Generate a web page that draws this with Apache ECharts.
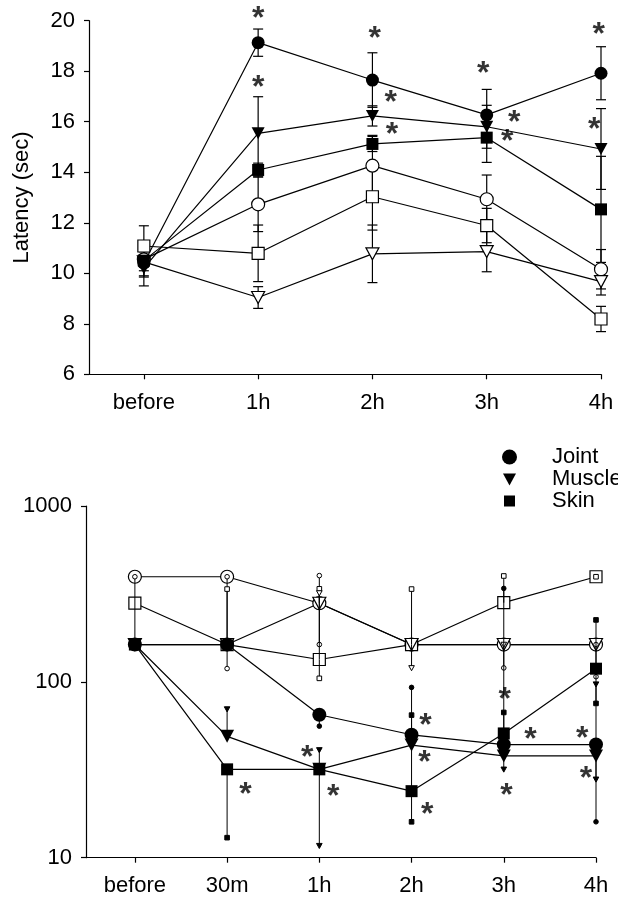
<!DOCTYPE html>
<html><head><meta charset="utf-8">
<script src="https://cdn.jsdelivr.net/npm/echarts@6/dist/echarts.min.js"></script>
<style>html,body{margin:0;padding:0;background:#fff}#c{width:618px;height:900px}</style>
</head><body><div id="c"></div>
<script>
// ---------- Top panel: latency (sec) ----------
const topCats = ['before', '1h', '2h', '3h', '4h'];
const topJoint = [10.4, 19.13, 17.65, 16.27, 17.92];
const topJointSE = [0.5, 0.54, 1.08, 1.01, 1.05];
const topMuscle = [10.2, 15.54, 16.23, 15.8, 14.92];
const topMuscleSE = [0.7, 1.45, 0.4, 0.85, 1.6];
const topSkin = [10.5, 14.09, 15.12, 15.37, 12.53];
const topSkinSE = [0.4, 0.27, 0.3, 0.98, 2.1];
const topJointOpen = [10.55, 12.73, 14.26, 12.93, 10.16];
const topJointOpenSE = [0.3, 1.08, 1.2, 0.96, 0.78];
const topSkinOpen = [11.08, 10.79, 13.03, 11.89, 8.19];
const topSkinOpenSE = [0.8, 1.12, 1.32, 0.68, 0.5];
const topMuscleOpen = [10.45, 9.04, 10.77, 10.86, 9.67];
const topMuscleOpenSE = [0.6, 0.43, 1.14, 0.8, 0.53];
const topYTicks = [6, 8, 10, 12, 14, 16, 18, 20];
const topStarX = [1, 1, 2.02, 2.16, 2.17, 2.97, 3.24, 3.18, 3.98, 3.94];
const topStarY = [20.3, 17.55, 19.5, 16.97, 15.7, 18.14, 16.18, 15.41, 19.66, 15.91];

// ---------- Bottom panel: log scale ----------
const botCats = ['before', '30m', '1h', '2h', '3h', '4h'];
const botJoint = [163, 163, 65, 50, 44, 44];
const botJointLo = [null, null, 56, null, null, 16];
const botJointHi = [null, null, null, 93, 340, null];
const botMuscle = [163, 49, 31.8, 43.7, 37.9, 37.9];
const botMuscleLo = [null, null, 11.7, null, 31.8, 27.9];
const botMuscleHi = [null, 70, 41, null, null, 97];
const botSkin = [163, 31.8, 31.8, 23.9, 50.9, 118.8];
const botSkinLo = [null, 13, null, 16, null, 75.4];
const botSkinHi = [null, null, null, 64.7, 67, 225];
const botJointOpen = [396, 396, 280, 163, 163, 163];
const botJointOpenLo = [163, 119, 163, null, 120, 107];
const botJointOpenHi = [396, 396, 402, null, null, 163];
const botSkinOpen = [280, 163, 134, 163, 282, 396];
const botSkinOpenLo = [null, null, 104.7, null, null, null];
const botSkinOpenHi = [null, 337, 338, 337, 400, 396];
const botMuscleOpen = [163, 163, 280, 163, 163, 163];
const botMuscleOpenLo = [null, null, null, 120, null, null];
const botMuscleOpenHi = [null, null, 320, null, 163, null];
const botStarX = [1.2, 1.87, 2.15, 3.15, 3.14, 3.17, 4.01, 4.29, 4.03, 4.85, 4.89];
const botStarY = [24.5, 39.6, 24.0, 60.2, 37.5, 18.8, 84.9, 50.3, 24.3, 51.4, 30.2];

const legendNames = ['Joint', 'Muscle', 'Skin'];

// ---------- build ----------
const FONT = "'Liberation Sans', Arial, sans-serif";
const pts = arr => arr.map((v, i) => [i, v]);

function seErr(vals, se) { return vals.map((v, i) => [i, v - se[i], v + se[i]]); }
function capBars(params, api) {
  const x = api.value(0), lo = api.value(1), hi = api.value(2);
  const p1 = api.coord([x, lo]), p2 = api.coord([x, hi]);
  const w = 5, st = { stroke: '#000', lineWidth: 1.2 };
  return { type: 'group', children: [
    { type: 'line', shape: { x1: p1[0], y1: p1[1], x2: p2[0], y2: p2[1] }, style: st },
    { type: 'line', shape: { x1: p1[0] - w, y1: p1[1], x2: p1[0] + w, y2: p1[1] }, style: st },
    { type: 'line', shape: { x1: p2[0] - w, y1: p2[1], x2: p2[0] + w, y2: p2[1] }, style: st }
  ]};
}
function whiskers(vals, lo, hi, shape, filled) {
  const out = [];
  vals.forEach((v, i) => {
    if (lo[i] != null) out.push([i, v, lo[i], shape, filled]);
    if (hi[i] != null) out.push([i, v, hi[i], shape, filled]);
  });
  return out;
}
function whiskerItem(params, api) {
  const x = api.value(0), v = api.value(1), e = api.value(2), sh = api.value(3), f = api.value(4);
  const a = api.coord([x, v]), b = api.coord([x, e]);
  const st = { stroke: '#000', lineWidth: 1, fill: f ? '#000' : '#fff' };
  const ch = [{ type: 'line', shape: { x1: a[0], y1: a[1], x2: b[0], y2: b[1] }, style: { stroke: '#000', lineWidth: 1 } }];
  const r = 2.3;
  if (sh === 0) ch.push({ type: 'circle', shape: { cx: b[0], cy: b[1], r: r }, style: st });
  else if (sh === 2) ch.push({ type: 'rect', shape: { x: b[0] - r, y: b[1] - r, width: 2 * r, height: 2 * r }, style: st });
  else ch.push({ type: 'polygon', shape: { points: [[b[0] - r - 0.5, b[1] - r], [b[0] + r + 0.5, b[1] - r], [b[0], b[1] + r + 0.5]] }, style: st });
  return { type: 'group', children: ch };
}

function lineSeries(name, data, grid, symbol, size, filled, rotate, z) {
  return {
    type: 'line', name: name, xAxisIndex: grid, yAxisIndex: grid, data: pts(data),
    symbol: symbol, symbolSize: size, symbolRotate: rotate || 0, showSymbol: true, clip: false,
    lineStyle: { color: '#000', width: 1.2 },
    itemStyle: { color: filled ? '#000' : '#fff', borderColor: '#000', borderWidth: filled ? 0 : 1.2, opacity: 1 },
    emphasis: { disabled: true }, animation: false, z: z || 3
  };
}
function starSeries(xs, ys, grid) {
  return {
    type: 'scatter', xAxisIndex: grid, yAxisIndex: grid, data: xs.map((x, i) => [x, ys[i]]),
    symbol: 'circle', symbolSize: 1, itemStyle: { color: 'rgba(0,0,0,0)' }, clip: false,
    label: { show: true, position: 'inside', formatter: '*', fontSize: 32, fontWeight: 'bold', fontFamily: FONT, color: '#000', offset: [0, 6] },
    emphasis: { disabled: true }, animation: false, z: 5
  };
}

function axisCommon() {
  return {
    axisLine: { show: true, onZero: false, lineStyle: { color: '#000', width: 1.2 } },
    axisTick: { show: true, length: 5, lineStyle: { color: '#000', width: 1.2 } },
    splitLine: { show: false }
  };
}

const option = {
  backgroundColor: '#fff',
  animation: false,
  textStyle: { fontFamily: FONT },
  grid: [
    { left: 89, top: 20.7, width: 512, height: 353.6, containLabel: false, outerBoundsMode: 'none' },
    { left: 86, top: 506, width: 510, height: 351.7, containLabel: false, outerBoundsMode: 'none' }
  ],
  xAxis: [
    Object.assign(axisCommon(), { type: 'value', gridIndex: 0, min: -0.48, max: 4,
      axisTick: { show: true, length: 5, customValues: [0, 1, 2, 3, 4], lineStyle: { color: '#000', width: 1.2 } },
      axisLabel: { customValues: [0, 1, 2, 3, 4], formatter: v => topCats[Math.round(v)], fontSize: 22, color: '#000', margin: 18 } }),
    Object.assign(axisCommon(), { type: 'value', gridIndex: 1, min: -0.53, max: 5,
      axisTick: { show: true, length: 5, customValues: [0, 1, 2, 3, 4, 5], lineStyle: { color: '#000', width: 1.2 } },
      axisLabel: { customValues: [0, 1, 2, 3, 4, 5], formatter: v => botCats[Math.round(v)], fontSize: 22, color: '#000', margin: 17 } })
  ],
  yAxis: [
    Object.assign(axisCommon(), { type: 'value', gridIndex: 0, min: topYTicks[0], max: topYTicks[topYTicks.length - 1], interval: 2,
      name: 'Latency (sec)', nameLocation: 'middle', nameGap: 56,
      nameTextStyle: { fontSize: 22, color: '#000', fontFamily: FONT },
      axisLabel: { fontSize: 22, color: '#000', margin: 14 } }),
    Object.assign(axisCommon(), { type: 'log', logBase: 10, gridIndex: 1, min: 10, max: 1000,
      axisLabel: { fontSize: 22, color: '#000', margin: 14, formatter: v => String(Math.round(v)) } })
  ],
  legend: {
    orient: 'vertical', left: 497, top: 441, itemWidth: 15, itemHeight: 15, itemGap: 0,
    selectedMode: false, inactiveColor: '#000',
    textStyle: { fontSize: 22, color: '#000', lineHeight: 22, padding: [0, 0, 0, 30], fontFamily: FONT },
    data: [
      { name: 'Joint', icon: 'circle', itemStyle: { color: '#000' } },
      { name: 'Muscle', icon: 'path://M0,0M15,15M1,2L14,2L7.5,14Z', itemStyle: { color: '#000' } },
      { name: 'Skin', icon: 'path://M0,0M15,15M2,2L13,2L13,13L2,13Z', itemStyle: { color: '#000' } }
    ]
  },
  series: [
    // top error bars
    { type: 'custom', xAxisIndex: 0, yAxisIndex: 0, renderItem: capBars, z: 1, silent: true, clip: false,
      encode: { x: 0, y: [1, 2] },
      data: [].concat(seErr(topJoint, topJointSE), seErr(topMuscle, topMuscleSE), seErr(topSkin, topSkinSE),
        seErr(topJointOpen, topJointOpenSE), seErr(topSkinOpen, topSkinOpenSE), seErr(topMuscleOpen, topMuscleOpenSE)) },
    lineSeries('Joint ctrl', topJointOpen, 0, 'circle', 13, false),
    lineSeries('Skin ctrl', topSkinOpen, 0, 'rect', 12, false),
    lineSeries('Muscle ctrl', topMuscleOpen, 0, 'triangle', [13, 12], false, 180),
    lineSeries('Skin', topSkin, 0, 'rect', 12, true),
    lineSeries('Muscle', topMuscle, 0, 'triangle', [13, 12], true, 180),
    lineSeries('Joint', topJoint, 0, 'circle', 13, true),
    starSeries(topStarX, topStarY, 0),
    // bottom whiskers (above open symbols, below filled ones)
    { type: 'custom', xAxisIndex: 1, yAxisIndex: 1, renderItem: whiskerItem, z: 2.5, silent: true, clip: false,
      encode: { x: 0, y: [1, 2] },
      data: [].concat(
        whiskers(botJointOpen, botJointOpenLo, botJointOpenHi, 0, 0),
        whiskers(botSkinOpen, botSkinOpenLo, botSkinOpenHi, 2, 0),
        whiskers(botMuscleOpen, botMuscleOpenLo, botMuscleOpenHi, 1, 0),
        whiskers(botJoint, botJointLo, botJointHi, 0, 1),
        whiskers(botMuscle, botMuscleLo, botMuscleHi, 1, 1),
        whiskers(botSkin, botSkinLo, botSkinHi, 2, 1)) },
    lineSeries('Joint ctrl b', botJointOpen, 1, 'circle', 13, false, 0, 2),
    lineSeries('Skin ctrl b', botSkinOpen, 1, 'rect', 12, false, 0, 2),
    lineSeries('Muscle ctrl b', botMuscleOpen, 1, 'triangle', [13, 12], false, 180, 2),
    lineSeries('Joint', botJoint, 1, 'circle', 14, true),
    lineSeries('Muscle', botMuscle, 1, 'triangle', [14, 13], true, 180),
    lineSeries('Skin', botSkin, 1, 'rect', 12, true),
    starSeries(botStarX, botStarY, 1)
  ]
};

const chart = echarts.init(document.getElementById('c'), null, { renderer: 'canvas' });
chart.setOption(option);
</script>
</body></html>
